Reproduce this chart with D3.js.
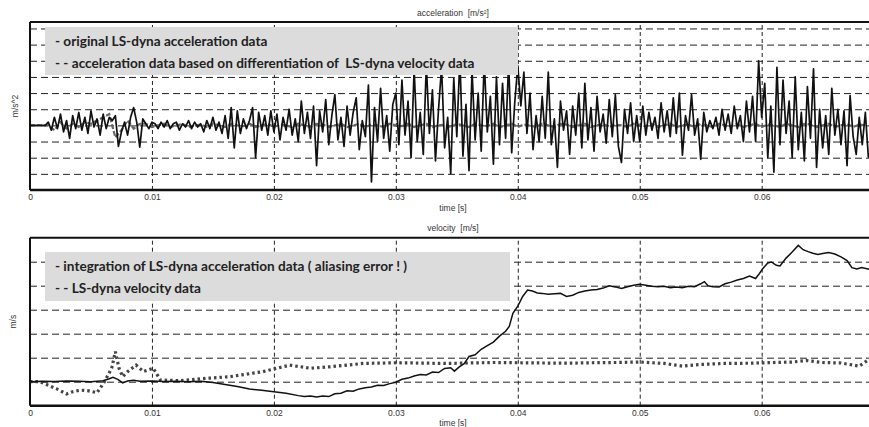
<!DOCTYPE html>
<html>
<head>
<meta charset="utf-8">
<script src="https://cdn.jsdelivr.net/npm/d3@7"></script>
<style>
  body { margin: 0; background: #fff; }
  svg { display: block; }
  .small { font-family: "Liberation Sans", Arial, sans-serif; font-size: 8.5px; fill: #333; white-space: pre; }
  .leg { font-family: Lato, sans-serif; font-weight: bold; font-size: 13.6px; fill: #222; white-space: pre; }
</style>
</head>
<body>
<div id="chart"></div>
<script>
// acceleration, sampled every 0.25 ms (values in grid units)
const accDt = 0.00025
const accLsdyna = [
  0,0,0,0,0,0,0.2,-0.3,0.5,-0.2,0.7,-0.4,0.3,-0.8,0.6,-0.2,0.8,-0.3,0.5,-0.5,0.9,-0.1,0.4,-0.6,0.7,-0.2,0.5,0.3,
  0.6,-1.3,-0.4,0.2,-0.6,0.5,1.1,0.2,-1.35,0.4,0.1,-0.2,0.2,
  0.1,-0.2,0.2,-0.1,0.3,-0.2,0.1,0.2,-0.3,0.1,-0.1,0.3,-0.2,0.2,-0.1,0.1,-0.4,0.3,-0.2,0.5,-0.3,0.2,-0.5,0.6,
  -0.8,1.1,-1.4,0.9,-0.5,0.4,-0.2,0.3,1.1,-2.0,0.8,-0.3,0.6,-0.6,0.9,
  -0.4,0.7,-0.9,0.5,-0.3,1.0,-0.6,0.4,-1.0,1.5,-0.5,0.8,-0.8,1.2,-2.5,0.9,-0.4,1.6,-1.2,0.6,
  1.9,-0.9,0.5,-1.3,1.2,-0.6,0.8,1.7,-1.5,0.3,-0.7,2.5,-3.5,1.1,-1.0,2.3,-0.8,0.6,-1.6,1.3,
  2.0,-1.2,2.8,-0.6,1.5,-2.0,3.5,-1.0,0.8,-1.8,3.8,-0.5,2.2,-2.2,1.0,3.6,-1.4,0.5,-3.0,2.9,
  -0.7,4.2,-1.9,1.3,-2.8,3.4,-0.9,2.0,-1.6,4.0,-0.4,1.8,-2.4,3.0,-1.2,2.6,-0.8,3.9,-1.7,1.4,
  3.7,1.2,3.3,-0.5,2.0,-1.5,0.6,-1.0,1.8,-0.8,3.3,-1.2,0.4,-2.6,1.5,-0.3,0.9,-1.8,1.2,-0.6,
  2.0,-1.4,2.6,-0.9,1.1,-1.6,1.8,-0.4,0.7,-1.1,1.6,-0.7,1.9,-1.3,-2.3,1.0,-0.5,1.4,-1.0,0.6,
  -1.0,1.2,-0.6,0.8,-0.3,0.5,-0.8,1.4,-0.4,0.9,-0.7,1.7,-0.5,2.0,-1.85,0.6,-0.3,1.9,-0.6,0.4,
  -2.1,0.8,-0.4,0.3,-0.2,0.5,-0.6,1.0,-0.3,0.7,-0.5,1.2,-0.2,0.6,-1.0,1.5,
  -0.4,1.8,-1.0,4.0,0.5,2.6,-2.0,1.2,-2.9,3.6,-1.2,2.8,-0.5,1.5,-2.0,3.0,-1.5,0.8,-2.2,2.4,
  -0.8,3.5,-2.6,1.0,-1.4,0.6,-1.8,2.3,-0.6,1.0,-1.2,0.9,-2.5,1.85,-0.7,-1.8,0.5,-1.2,0.8,-2.0
]

// acceleration from differentiated velocity, every 0.5 ms
const diffDt = 0.0005
const accFromVel = [
  0,0,0,0,-0.3,0.2,-0.2,0.1,-0.1,0.2,0.1,0.3,0.5,0.7,-0.75,-0.3,0.3,-0.2,0.1,0.1,-0.1,0.0,
  0.1,-0.1,0.0,0.1,-0.1,0.0,0.05,-0.1,0.1,0.0,-0.1,0.1,0.0,-0.05,0.1,-0.1,0.0,0.1,-0.1,0.05,
  0.0,-0.1,0.1,0.0,-0.1,0.1,0.05,-0.1,0.0,0.1,-0.1,0.0,0.1,-0.1,0.05,0.0,-0.1,0.1,0.0,-0.05,
  0.1,-0.1,0.0,0.1,-0.1,0.0,0.05,-0.1,0.1,0.0,-0.1,0.1,0.0,-0.05,0.1,-0.1,0.0,0.1,-0.1,0.05,
  0.0,-0.1,0.1,0.0,-0.1,0.1,0.05,-0.1,0.0,0.1,-0.1,0.0,0.1,-0.1,0.05,0.0,-0.1,0.1,0.0,-0.05,
  0.1,-0.1,0.0,0.1,-0.1,0.0,0.05,-0.1,0.1,0.0,-0.1,0.1,0.0,-0.05,0.1,-0.1,0.0,0.1,-0.1,0.05,
  0.0,-0.1,0.1,0.0,-0.1,0.1,0.05,-0.1,0.0,0.1,-0.1,0.0,0.1,-0.1,0.05,0.0
]

// velocity from integration (time in ms)
const intTime = [0,1,2,3,4,5,6,6.5,6.8,7.2,7.6,8,8.5,9,10,11,12,13,14,15,16,17,18,19,20,21,22,22.5,23,23.5,24,24.5,25,25.5,26,26.5,27,27.5,28,28.5,29,29.5,30,30.5,31,31.5,32,32.5,33,33.5,34,34.5,34.8,35.2,35.6,36,36.5,37,37.5,38,38.5,39,39.3,39.6,40,40.4,40.8,41.2,41.6,42,42.5,43,43.5,44,44.5,45,45.5,46,46.5,47,47.5,48,48.5,49,49.5,50,50.5,51,51.5,52,52.5,53,53.5,54,54.5,55,55.3,55.6,56,56.5,57,57.5,58,58.5,59,59.5,59.8,60.1,60.5,60.8,61.2,61.5,62,62.5,63,63.4,63.8,64.2,64.6,65,65.5,66,66.5,67,67.4,67.8,68.2,68.8]
const intVel = [0,0.02,0.01,0.03,0.02,0,0.04,0.12,0.18,0.1,-0.05,0.03,0.06,0.02,0.03,0.01,0.02,0,0.02,-0.03,-0.12,-0.2,-0.3,-0.36,-0.42,-0.48,-0.58,-0.62,-0.6,-0.64,-0.6,-0.62,-0.5,-0.48,-0.38,-0.4,-0.3,-0.25,-0.22,-0.15,-0.16,-0.08,-0.02,0.1,0.15,0.24,0.3,0.28,0.4,0.38,0.55,0.58,0.44,0.62,0.75,1.05,1.12,1.35,1.5,1.65,1.9,2.1,2.3,2.85,3.15,3.55,3.82,3.78,3.7,3.68,3.64,3.66,3.68,3.55,3.6,3.72,3.78,3.82,3.84,3.9,4.0,3.95,3.88,3.96,4.02,4.06,4.02,3.98,3.96,3.98,3.92,3.95,3.92,3.98,3.96,4.08,4.17,4.0,3.96,3.95,4.08,4.15,4.24,4.3,4.4,4.3,4.5,4.72,4.95,4.99,4.85,4.82,5.15,5.4,5.68,5.5,5.42,5.35,5.3,5.34,5.38,5.32,5.2,5.05,4.75,4.7,4.76,4.68]

// LS-dyna velocity (time in ms)
const dynTime = [0,0.8,1.6,2.2,3,3.5,4.1,4.8,5.5,6.1,6.7,7.0,7.3,7.6,8.0,8.7,9.3,10.1,10.7,12.3,14.5,16.4,19.1,21.3,23,24.6,27.3,30.1,34.2,36,38,40,42,44,46,48,50,52,53.5,55,57,59,61,62.5,63.7,65,66.5,68,68.8]
const dynVel = [0,0,-0.17,-0.3,-0.51,-0.42,-0.35,-0.38,-0.46,0,0.56,1.25,0.56,0.21,0.42,0.69,0.42,0.56,0.07,0.04,0.14,0.21,0.42,0.69,0.56,0.62,0.76,0.79,0.76,0.78,0.8,0.79,0.78,0.77,0.79,0.8,0.82,0.76,0.65,0.72,0.76,0.77,0.8,0.82,0.88,0.8,0.78,0.65,0.93]

const xTicks = [0, 0.01, 0.02, 0.03, 0.04, 0.05, 0.06]

const width = 869, height = 427

const svg = d3.select("#chart").append("svg")
  .attr("width", width)
  .attr("height", height)

const x = d3.scaleLinear().domain([0, 0.0688]).range([30, 869])

function panel({ top, bottom, yDomain, yGrid, title, titleY, ylabel, ylabelX, tickY, timeY, legend, box, id }) {
  const y = d3.scaleLinear().domain(yDomain).range([bottom, top])

  svg.append("clipPath").attr("id", id)
    .append("rect").attr("x", 30).attr("y", top).attr("width", 839).attr("height", bottom - top)

  // horizontal grid
  svg.append("g")
    .attr("transform", "translate(30,0)")
    .call(d3.axisLeft(y).tickValues(yGrid).tickSize(-839).tickFormat(""))
    .call(g => g.select(".domain").remove())
    .call(g => g.selectAll("line").attr("stroke", "#222").attr("stroke-dasharray", "7,4"))

  // vertical grid
  svg.append("g")
    .attr("transform", `translate(0,${bottom})`)
    .call(d3.axisBottom(x).tickValues(xTicks.slice(1)).tickSize(-(bottom - top)).tickFormat(""))
    .call(g => g.select(".domain").remove())
    .call(g => g.selectAll("line").attr("stroke", "#222").attr("stroke-dasharray", "4,3"))

  // tick labels
  svg.append("g")
    .attr("transform", `translate(0,${tickY})`)
    .call(d3.axisBottom(x).tickValues(xTicks).tickSize(0).tickPadding(0).tickFormat(d => d === 0 ? "0" : d3.format(".2f")(d)))
    .call(g => g.select(".domain").remove())
    .call(g => g.selectAll("text").attr("class", "small").attr("dy", 0).attr("fill", null))

  const series = svg.append("g").attr("clip-path", `url(#${id})`)

  // legend box
  svg.append("rect")
    .attr("x", box[0]).attr("y", box[1]).attr("width", box[2] - box[0]).attr("height", box[3] - box[1])
    .attr("fill", "#dcdcdc")

  legend.forEach((t, i) => {
    svg.append("text").attr("class", "leg")
      .attr("x", 55).attr("y", box[1] + 18.5 + i * 22.5)
      .text(t)
  })

  // frame
  svg.append("line").attr("x1", 30).attr("x2", 869).attr("y1", top).attr("y2", top)
    .attr("stroke", "#111").attr("stroke-width", 2)
  svg.append("line").attr("x1", 30).attr("x2", 869).attr("y1", bottom).attr("y2", bottom)
    .attr("stroke", "#111").attr("stroke-width", 2.5)
  svg.append("line").attr("x1", 30).attr("x2", 30).attr("y1", top).attr("y2", bottom)
    .attr("stroke", "#111").attr("stroke-width", 2)

  svg.append("text").attr("class", "small").attr("text-anchor", "middle")
    .attr("x", 453).attr("y", titleY).text(title)
  svg.append("text").attr("class", "small").attr("text-anchor", "middle")
    .attr("x", 453).attr("y", timeY).text("time [s]")
  svg.append("text").attr("class", "small").attr("text-anchor", "middle")
    .attr("transform", `translate(${ylabelX},${(top + bottom) / 2}) rotate(-90)`)
    .text(ylabel)

  return { y, series }
}

// acceleration panel
const acc = panel({
  id: "clipA", top: 22, bottom: 190, yDomain: [-4, 6.4], yGrid: d3.range(-3, 7),
  title: "acceleration  [m/s²]", titleY: 16, ylabel: "m/s^2", ylabelX: 18,
  tickY: 200, timeY: 211,
  legend: ["- original LS-dyna acceleration data", "- - acceleration data based on differentiation of  LS-dyna velocity data"],
  box: [45, 27, 518, 75]
})

const accLine = d3.line().x(d => x(d[0])).y(d => acc.y(d[1]))

acc.series.append("path")
  .datum(accFromVel.map((v, i) => [i * diffDt, v]))
  .attr("fill", "none").attr("stroke", "#666").attr("stroke-width", 2.2)
  .attr("stroke-dasharray", "5,2")
  .attr("d", accLine)

acc.series.append("path")
  .datum(accLsdyna.map((v, i) => [i * accDt, v]))
  .attr("fill", "none").attr("stroke", "#111").attr("stroke-width", 1.7)
  .attr("stroke-linejoin", "round")
  .attr("d", accLine)

// velocity panel
const vel = panel({
  id: "clipV", top: 237.7, bottom: 405.7, yDomain: [-1, 6], yGrid: d3.range(0, 6),
  title: "velocity  [m/s]", titleY: 231, ylabel: "m/s", ylabelX: 16,
  tickY: 416, timeY: 426,
  legend: ["- integration of LS-dyna acceleration data ( aliasing error ! )", "- - LS-dyna velocity data"],
  box: [45, 252, 510, 301]
})

const velLine = d3.line().x(d => x(d[0] / 1000)).y(d => vel.y(d[1]))

vel.series.append("path")
  .datum(dynTime.map((t, i) => [t, dynVel[i]]))
  .attr("fill", "none").attr("stroke", "#444").attr("stroke-width", 3.2)
  .attr("stroke-dasharray", "2.5,3")
  .attr("d", velLine)

vel.series.append("path")
  .datum(intTime.map((t, i) => [t, intVel[i]]))
  .attr("fill", "none").attr("stroke", "#111").attr("stroke-width", 1.5)
  .attr("d", velLine)
</script>
</body>
</html>
